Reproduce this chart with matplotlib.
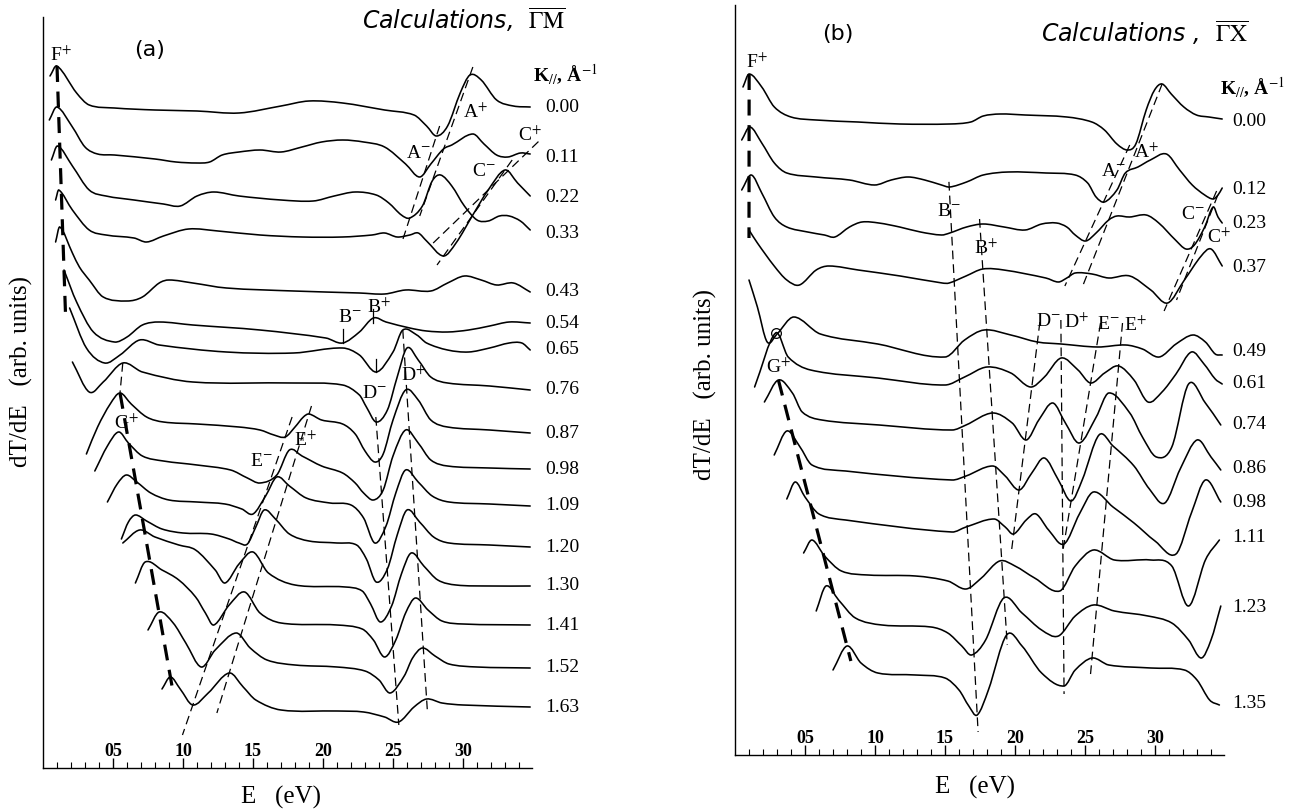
import matplotlib
matplotlib.use("Agg")
import matplotlib.pyplot as plt
from matplotlib.path import Path
from matplotlib.patches import PathPatch
import numpy as np

plt.rcParams['mathtext.fontset'] = 'stix'
plt.rcParams['font.family'] = ['Liberation Serif', 'DejaVu Serif']

W, H = 1304, 811

# ---------------- panel (a): Calculations, Gamma-M ----------------
A_K = ['0.00', '0.11', '0.22', '0.33', '0.43', '0.54', '0.65', '0.76',
       '0.87', '0.98', '1.09', '1.20', '1.30', '1.41', '1.52', '1.63']
# vertical offset of each spectrum (where its K label sits), arb. units
A_BASE = [661, 611, 571, 535, 476, 445, 418, 378, 335, 299, 262, 221, 182, 143, 100, 61]

A_E = [
    [0.5, 1.0, 2.4, 3.3, 5.1, 8, 11, 14, 17, 19, 21.4, 24.4, 26.5, 27.4, 28.1, 28.9, 29.8, 30.5, 31.3, 32.4, 33.6, 34.8],
    [0.45, 1.0, 2.1, 3.0, 3.9, 5.1, 8.0, 9.5, 11.0, 11.9, 12.8, 14.0, 15.5, 17.0, 18.5, 19.9, 21.4, 22.9, 24.4, 25.9,
     26.9, 27.7, 28.6, 29.2, 30.7, 31.5, 32.4, 33.2, 34.1, 34.8],
    [0.6, 1.04, 2.1, 3.3, 4.5, 6.5, 8.6, 9.8, 11.0, 12.2, 14.0, 17.0, 19.3, 20.8, 22.3, 23.8, 24.7, 25.6, 26.2, 27.1,
     27.8, 28.4, 29.2, 30.1, 31.0, 31.8, 32.6, 33.3, 34.1, 34.8],
    [0.9, 1.13, 2.1, 3.3, 4.5, 6.5, 7.4, 8.6, 10.4, 12.5, 15.5, 18.5, 21.4, 23.5, 24.4, 25.3, 26.2, 26.8, 27.4, 28.6,
     29.5, 30.7, 31.8, 33.0, 33.9, 34.8],
    [0.9, 1.2, 2.1, 2.6, 3.3, 4.3, 6.0, 7.1, 8.3, 9.0, 10.7, 13.1, 17.9, 22.6, 24.4, 25.9, 27.7, 28.9, 30.1, 31.3,
     32.4, 33.6, 34.8],
    [1.5, 2.4, 3.6, 5.1, 6.0, 7.1, 8.3, 10.7, 15.5, 20.2, 21.4, 22.6, 23.6, 24.5, 26.2, 27.4, 28.9, 30.4, 31.9, 33.3, 34.8],
    [1.9, 3.1, 4.4, 5.5, 6.9, 8.3, 13.1, 17.9, 21.4, 22.6, 23.8, 25.0, 25.7, 26.7, 27.4, 28.9, 30.4, 31.9, 33.3, 34.2, 34.8],
    [2.1, 3.3, 4.3, 5.7, 7.1, 10.7, 17.9, 21.4, 22.6, 23.1, 23.8, 24.6, 25.3, 26.0, 26.8, 27.7, 28.9, 31.9, 34.8],
    [3.1, 3.9, 4.8, 5.5, 6.3, 7.4, 8.6, 11.0, 14.0, 15.5, 16.5, 17.3, 18.0, 18.6, 19.0, 19.9, 21.4, 22.3, 23.0, 23.7,
     24.3, 25.0, 25.9, 26.8, 27.7, 28.9, 31.9, 34.8],
    [3.7, 4.6, 5.4, 6.1, 7.1, 8.6, 11.0, 13.4, 14.6, 15.5, 16.7, 17.6, 18.5, 19.9, 21.4, 22.3, 22.9, 23.6, 24.3, 25.0,
     25.9, 26.8, 27.7, 28.9, 31.9, 34.8],
    [4.6, 5.3, 5.95, 6.7, 7.7, 9.0, 11.0, 13.0, 14.2, 15.0, 15.9, 16.7, 17.6, 18.8, 20.5, 22.0, 22.9, 23.7, 24.5, 25.2,
     25.9, 26.8, 27.8, 29.0, 31.9, 34.8],
    [5.6, 6.1, 6.6, 7.4, 8.5, 10.0, 12.0, 13.3, 14.0, 14.6, 15.2, 15.8, 16.6, 17.6, 19.0, 21.0, 22.4, 23.1, 23.8, 24.6,
     25.3, 26.0, 26.9, 27.9, 29.0, 31.9, 34.8],
    [5.7, 6.9, 8.0, 9.7, 10.9, 12.3, 13.0, 14.0, 15.0, 16.1, 18.0, 21.6, 22.8, 23.4, 24.1, 24.9, 25.6, 26.3, 27.2, 28.2,
     29.5, 32.0, 34.8],
    [6.6, 7.3, 8.5, 9.7, 10.9, 11.6, 12.2, 13.3, 14.4, 15.5, 17.0, 21.0, 22.8, 23.6, 24.4, 25.2, 25.9, 26.6, 27.5, 28.5,
     30.0, 34.8],
    [7.5, 8.3, 9.3, 10.2, 11.3, 12.3, 13.8, 14.8, 16.0, 18.0, 21.0, 23.0, 24.0, 24.8, 25.8, 26.4, 27.1, 28.0, 29.0, 31.0, 34.8],
    [8.5, 9.1, 9.8, 10.7, 11.8, 13.3, 14.3, 15.2, 17.0, 21.0, 22.9, 24.4, 25.4, 26.5, 27.4, 28.5, 30.0, 34.8],
]
A_DT = [
    [31, 41, 14, 2, -1, -3, -4, -6, 1, 6, 4, -3, -8, -19, -29, -19, 14, 32, 27, 7, 1, 0],
    [37, 50, 30, 10, 3, 2, -2, -5, -6, -5, 2, 5, 7, 5, 10, 15, 17, 15, 10, -7, -20, -7, 8, 12, 23, 13, 2, 0, 4, 3],
    [37, 51, 31, 7, 1, -3, -7, -9, 1, 5, 1, -3, -4, 1, 5, 2, -6, -18, -21, -9, 16, 22, 11, -9, -23, -24, -19, -19, -24, -33],
    [33, 43, 23, 3, -2, -5, -9, -3, 4, 2, -2, -4, -4, -2, 0, -4, -2, 0, -8, -23, -10, 18, 43, 63, 50, 37],
    [50, 65, 39, 25, 12, -5, -9, -5, 9, 12, 9, 4, 1, -1, -2, 2, 1, 9, 16, 12, 7, 9, 0],
    [53, 21, -9, -19, -14, -2, 1, -2, -7, -15, -20, -9, 5, 1, -5, -8, -9, -7, -3, 1, 0],
    [42, 2, -13, -5, 10, 5, -2, -3, 2, -5, -22, -2, 20, 15, 7, 0, -2, 2, 7, 7, 0],
    [28, -2, 8, 27, 18, 8, 7, 5, -5, -17, -32, -20, 13, 42, 30, 13, 7, 4, 0],
    [-21, 6, 29, 40, 29, 16, 11, 9, 6, 3, -2, -4, 6, 16, 19, 13, 9, -1, -18, -29, -21, 13, 43, 33, 13, 6, 3, 0],
    [-2, 23, 37, 26, 13, 8, 4, -1, -9, -14, -6, 19, 13, 3, -4, -14, -24, -31, -21, 13, 39, 26, 9, 3, 1, 0],
    [4, 22, 31, 24, 13, 6, 4, 2, -3, -8, 10, 29, 20, 8, 3, 1, -12, -37, -20, 13, 36, 24, 10, 4, 2, 0],
    [8, 25, 32, 26, 18, 14, 13, 8, 4, 3, 20, 37, 28, 13, 6, 4, 2, -12, -35, -22, 12, 37, 25, 10, 4, 2, 0],
    [43, 56, 49, 41, 36, 16, 3, 22, 34, 13, 1, -1, -5, -18, -36, -20, 12, 33, 20, 6, 1, 0, 0],
    [42, 63, 55, 45, 28, 12, 0, 20, 33, 12, 2, 0, -4, -15, -32, -15, 12, 27, 15, 4, 1, 0],
    [38, 56, 45, 25, 1, 18, 35, 20, 8, 3, 1, -3, -12, -25, -8, 10, 20, 12, 4, 1, 0],
    [18, 30, 18, 2, 14, 34, 20, 7, -3, -4, -5, -10, -15, 0, 8, 4, 2, 0],
]

# ---------------- panel (b): Calculations, Gamma-X ----------------
B_K = ['0.00', '0.12', '0.23', '0.37', '0.49', '0.61', '0.74', '0.86', '0.98', '1.11', '1.23', '1.35']
B_BASE = [633, 565, 531, 487, 403, 371, 330, 286, 252, 217, 147, 52]

B_E = [
    [0.57, 1.01, 1.91, 2.81, 4.0, 5.79, 8.78, 11.76, 15.34, 16.84, 17.73, 18.93, 20.72, 23.7, 25.49, 26.39, 27.28,
     28.03, 28.63, 29.37, 29.97, 30.51, 31.16, 32.06, 32.96, 33.85, 34.8],
    [0.48, 1.07, 1.91, 2.81, 3.7, 5.79, 8.18, 9.97, 11.16, 12.36, 13.55, 14.75, 15.34, 16.54, 17.73, 19.52, 22.21,
     24.3, 25.19, 25.79, 26.39, 27.28, 27.88, 28.78, 29.67, 30.81, 31.76, 32.66, 33.55, 34.15, 34.5, 34.8],
    [0.48, 1.16, 1.91, 2.81, 3.7, 5.19, 6.39, 7.13, 8.18, 9.07, 10.27, 11.76, 13.25, 14.75, 15.34, 16.54, 17.73,
     19.22, 20.72, 21.91, 22.96, 23.7, 24.3, 25.04, 25.79, 26.69, 27.28, 28.18, 29.37, 30.27, 31.46, 32.21, 32.81,
     33.55, 34.15, 34.5, 34.8],
    [1.0, 1.6, 2.8, 3.7, 4.6, 5.8, 6.7, 8.8, 11.8, 14.8, 15.3, 16.5, 17.7, 19.2, 22.2, 23.1, 23.7, 24.3, 25.5, 26.7,
     28.2, 29.7, 30.9, 32.1, 33.3, 34.0, 34.8],
    [1.0, 1.6, 2.3, 3.0, 4.2, 6.1, 10.2, 15.0, 16.4, 17.8, 19.7, 21.6, 23.3, 25.9, 27.9, 29.1, 30.3, 31.5, 32.7, 33.6,
     34.3, 34.8],
    [1.4, 2.9, 3.8, 5.4, 10.2, 15.0, 16.4, 18.0, 19.7, 21.1, 22.1, 23.3, 24.5, 25.4, 26.4, 27.4, 28.5, 29.5, 30.5,
     31.5, 32.6, 33.5, 34.3, 34.8],
    [2.1, 3.1, 4.1, 4.8, 6.2, 10.3, 15.5, 16.5, 18.4, 19.8, 20.8, 21.7, 22.7, 23.6, 24.6, 25.8, 26.7, 28.2, 29.1,
     30.1, 31.2, 32.4, 33.6, 34.7],
    [2.8, 3.7, 4.6, 5.5, 7.9, 15.5, 16.5, 18.4, 19.3, 20.3, 21.2, 22.1, 23.1, 24.0, 24.8, 26.0, 27.0, 28.5, 29.6,
     30.7, 31.8, 33.0, 34.0, 34.7],
    [3.7, 4.3, 5.0, 6.0, 7.9, 15.5, 16.5, 18.5, 19.3, 19.9, 20.8, 21.5, 22.4, 23.5, 24.6, 25.6, 27.0, 28.5, 30.0,
     31.5, 32.6, 33.6, 34.7],
    [4.9, 5.5, 6.4, 7.6, 9.5, 12.9, 15.2, 16.5, 17.6, 18.9, 20.0, 21.4, 23.2, 24.3, 25.6, 27.1, 29.7, 31.2, 32.4,
     33.6, 34.6],
    [5.8, 6.5, 7.4, 8.6, 10.5, 14.0, 15.2, 16.2, 16.9, 17.9, 19.2, 20.5, 21.9, 23.1, 24.3, 25.6, 27.1, 29.5, 31.2,
     32.4, 33.3, 34.0, 34.7],
    [7.0, 8.0, 9.0, 10.2, 12.9, 15.0, 16.0, 16.7, 17.3, 18.1, 19.4, 20.5, 21.9, 23.5, 24.3, 25.5, 26.7, 29.7, 32.1,
     33.0, 33.9, 34.6],
]
B_DT = [
    [35, 48, 35, 15, 5, 2, 0, -2, -2, 0, 6, 8, 7, 5, 0, -8, -22, -28, -22, 12, 32, 38, 28, 15, 7, 5, 3],
    [50, 63, 47, 27, 17, 13, 10, 5, 10, 13, 10, 5, 3, 8, 15, 18, 17, 15, 7, -7, -12, 0, 17, 23, 30, 36, 20, 5, -5,
     -9, -5, 2],
    [34, 49, 31, 7, -3, -8, -11, -13, -3, 2, 1, -3, -8, -11, -9, -3, 0, -3, -6, 0, 1, -3, -11, -17, -9, 4, 8, 7, 9,
     1, -16, -25, -21, -3, 17, 7, 1],
    [38, 25, 2, -12, -17, -2, 2, -2, -8, -15, -15, -8, -1, -2, -10, -14, -10, -5, -6, -10, -8, -22, -35, -12, 12, 19, 2],
    [72, 45, 10, 18, 35, 18, 8, -5, 12, 22, 17, 10, 8, 5, 7, 3, -5, 8, 17, 10, -2, -3],
    [-3, 51, 27, 14, 6, -1, 7, 17, 11, -3, 7, 26, 14, 1, 11, 18, 4, -18, -8, 10, 32, 20, 5, 0],
    [23, 45, 32, 13, 5, 0, -5, 0, 12, 2, -15, 5, 22, 2, -18, 8, 32, 12, -12, -32, -22, 41, 22, 0],
    [14, 38, 23, 4, -2, -11, -7, 3, -7, -21, -4, 11, -11, -32, -11, 34, 23, 3, -20, -34, 0, 29, 12, -1],
    [4, 21, 6, -11, -17, -29, -24, -16, -24, -31, -17, -11, -27, -41, -11, 11, -4, -20, -38, -51, -10, 23, 1],
    [-15, -2, -18, -33, -37, -38, -43, -51, -40, -23, -28, -40, -53, -28, -12, -22, -22, -28, -68, -22, -2],
    [-3, 22, 8, -10, -17, -19, -25, -38, -47, -32, 10, -5, -22, -28, -8, 3, -3, -8, -15, -32, -50, -32, 2],
    [33, 57, 40, 30, 28, 25, 13, -3, -12, 13, 68, 57, 30, 17, 33, 45, 38, 35, 33, 23, 3, -2],
]

XTICKS = [5, 10, 15, 20, 25, 30]
XTICKLABELS = ['05', '10', '15', '20', '25', '30']

# guide lines: (top anchor (row, E), bottom anchor (row, E), extend top, extend bottom, thick)
A_GUIDES = [
    ((0, 1.0), (5, 1.5), 0, 45, True),
    ((0, 28.1), (2, 26.2), 10, 25, False),
    ((0, 30.5), (2, 27.8), 8, 35, False),
    ((3, 33.0), (3, 30.7), 10, 50, False),
    ((1, 34.5), (3, 31.8), 12, 55, False),
    ((7, 23.8), (15, 25.4), 5, 3, False),
    ((6, 25.7), (15, 27.4), 0, 14, False),
    ((8, 17.3), (15, 10.7), 20, 30, False),
    ((8, 19.0), (15, 13.3), 8, 40, False),
    ((8, 5.5), (15, 9.1), 0, 15, True),
    ((7, 5.7), (8, 5.5), 0, 0, False),
]
B_GUIDES = [
    ((0, 1.01), (3, 1.0), 0, 8, True),
    ((0, 28.03), (2, 25.04), 5, 45, False),
    ((0, 30.51), (2, 26.69), 0, 68, False),
    ((1, 34.15), (3, 30.9), 8, 8, False),
    ((2, 34.15), (3, 32.1), 12, 20, False),
    ((1, 15.3), (11, 17.3), 5, 17, False),
    ((3, 17.7), (11, 19.4), 50, 10, False),
    ((4, 21.6), (8, 19.9), 20, 15, False),
    ((5, 23.3), (11, 23.5), 38, 8, False),
    ((5, 25.4), (8, 23.5), 60, 10, False),
    ((5, 27.4), (11, 25.5), 43, 20, False),
    ((6, 3.1), (11, 8.0), 0, 15, True),
]

# feature labels: (letter, sign, E, row, height above that row's offset)
A_NOTES = [('F', '+', 1.3, 0, 52), ('A', '+', 30.9, 0, -5), ('A', '-', 26.8, 1, 4),
           ('C', '+', 34.8, 1, 22), ('C', '-', 31.5, 2, 25), ('B', '-', 21.9, 5, 6),
           ('B', '+', 24.0, 5, 16), ('D', '-', 23.7, 7, -3), ('D', '+', 26.5, 7, 15),
           ('G', '+', 5.95, 8, 10), ('E', '-', 15.6, 9, 7), ('E', '+', 18.75, 9, 29)]
B_NOTES = [('F', '+', 1.55, 0, 60), ('A', '-', 27.0, 1, 18), ('A', '+', 29.4, 1, 38),
           ('B', '-', 15.3, 2, 12), ('B', '+', 17.9, 3, 20), ('C', '-', 32.7, 2, 9),
           ('C', '+', 34.6, 3, 31), ('D', '-', 22.4, 4, 30), ('D', '+', 24.4, 4, 30),
           ('E', '-', 26.7, 4, 27), ('E', '+', 28.6, 4, 27), ('G', '+', 3.1, 5, 17)]


def curve_path(E, y):
    # cubic Hermite through the read points, drawn by matplotlib as Bezier segments
    E = np.asarray(E, float)
    y = np.asarray(y, float)
    n = len(E)
    m = np.zeros(n)
    m[0] = (y[1] - y[0]) / (E[1] - E[0])
    m[-1] = (y[-1] - y[-2]) / (E[-1] - E[-2])
    for i in range(1, n - 1):
        m[i] = (y[i + 1] - y[i - 1]) / (E[i + 1] - E[i - 1])
    verts = [(E[0], y[0])]
    codes = [Path.MOVETO]
    for i in range(n - 1):
        h = E[i + 1] - E[i]
        verts += [(E[i] + h / 3, y[i] + m[i] * h / 3),
                  (E[i + 1] - h / 3, y[i + 1] - m[i + 1] * h / 3),
                  (E[i + 1], y[i + 1])]
        codes += [Path.CURVE4] * 3
    return Path(verts, codes)


def row_y(Es, dts, base, row, e):
    return base[row] + np.interp(e, Es[row], dts[row])


def draw_panel(ax, Es, dts, base, ks, guides, notes, xmax, ymax, klab_x):
    ax.set_xlim(0, xmax)
    ax.set_ylim(0, ymax)
    for s in ['top', 'right']:
        ax.spines[s].set_visible(False)
    for s in ['left', 'bottom']:
        ax.spines[s].set_linewidth(1.0)
    ax.set_yticks([])
    ax.set_xticks(XTICKS)
    ax.set_xticklabels(XTICKLABELS, fontsize=13, fontweight='bold')
    ax.set_xticks(np.arange(1, 35), minor=True)
    ax.tick_params(axis='x', which='major', direction='in', length=7, width=1.0, pad=-18)
    ax.tick_params(axis='x', which='minor', direction='in', length=4, width=0.8)

    for E, dt, b, k in zip(Es, dts, base, ks):
        y = np.asarray(dt, float) + b
        ax.add_patch(PathPatch(curve_path(E, y), fill=False, lw=1.15, color='black',
                               capstyle='round', joinstyle='round', clip_on=False))
        ax.text(klab_x, b, k, fontsize=14, ha='left', va='center', clip_on=False)

    for (ra, ea), (rb, eb), ext_t, ext_b, thick in guides:
        p1 = np.array([ea, row_y(Es, dts, base, ra, ea)])
        p2 = np.array([eb, row_y(Es, dts, base, rb, eb)])
        d = p2 - p1
        dy = abs(d[1])
        s = p1 - d * ext_t / dy
        e = p2 + d * ext_b / dy
        if thick:
            ax.plot([s[0], e[0]], [s[1], e[1]], color='black', lw=2.3, dashes=(5, 3), clip_on=False)
        else:
            ax.plot([s[0], e[0]], [s[1], e[1]], color='black', lw=0.9, dashes=(7, 4), clip_on=False)

    for letter, sign, e, row, dy in notes:
        ax.text(e, base[row] + dy, letter + '$^{' + sign + '}$', fontsize=14,
                ha='center', va='center', clip_on=False)


fig = plt.figure(figsize=(W / 100, H / 100), dpi=100)

PX_PER_EV = 14.0
XMAX = 34.9

# panel (a) : spine at x=43 px, bottom axis at y=768 px, top at 17 px
axa = fig.add_axes([43 / W, 1 - 768 / H, XMAX * PX_PER_EV / W, (768 - 17) / H])
draw_panel(axa, A_E, A_DT, A_BASE, A_K, A_GUIDES, A_NOTES, XMAX, 751, 35.9)
# small solid markers at B-, B+ and D- of the 0.54 / 0.65 spectra
for row, e, lo, hi in [(5, 21.4, 0, 14), (5, 23.6, -5, 9), (6, 23.8, 0, 13)]:
    y0 = row_y(A_E, A_DT, A_BASE, row, e)
    axa.plot([e, e], [y0 + lo, y0 + hi], color='black', lw=0.9)

# panel (b) : spine at x=735 px, bottom axis at y=755 px, top at 5 px
axb = fig.add_axes([735 / W, 1 - 755 / H, XMAX * PX_PER_EV / W, (755 - 5) / H])
draw_panel(axb, B_E, B_DT, B_BASE, B_K, B_GUIDES, B_NOTES, XMAX, 750, 35.5)
# little ellipse marking G on the 0.61 spectrum
ye = row_y(B_E, B_DT, B_BASE, 5, 2.9)
axb.plot([2.9], [ye], marker='o', ms=7, mfc='none', mec='black', mew=0.9)

fig.text(150 / W, 1 - 50 / H, '(a)', fontsize=16, family='DejaVu Sans', ha='center', va='center')
fig.text(838 / W, 1 - 34 / H, '(b)', fontsize=16, family='DejaVu Sans', ha='center', va='center')
fig.text(566 / W, 1 - 20 / H, 'Calculations,  $\\overline{\\Gamma\\mathrm{M}}$', fontsize=17,
         family='DejaVu Sans', style='italic', ha='right', va='center')
fig.text(1248 / W, 1 - 33 / H, 'Calculations ,  $\\overline{\\Gamma\\mathrm{X}}$', fontsize=17,
         family='DejaVu Sans', style='italic', ha='right', va='center')
fig.text(533 / W, 1 - 75 / H, 'K$_{//}$, Å$^{-1}$', fontsize=14, fontweight='bold', ha='left', va='center')
fig.text(1220 / W, 1 - 88 / H, 'K$_{//}$, Å$^{-1}$', fontsize=14, fontweight='bold', ha='left', va='center')

fig.text(21 / W, 1 - 372 / H, 'dT/dE   (arb. units)', fontsize=18, rotation=90, ha='center', va='center')
fig.text(705 / W, 1 - 385 / H, 'dT/dE   (arb. units)', fontsize=18, rotation=90, ha='center', va='center')
fig.text(281 / W, 1 - 797 / H, 'E   (eV)', fontsize=18, ha='center', va='center')
fig.text(975 / W, 1 - 787 / H, 'E   (eV)', fontsize=18, ha='center', va='center')

fig.savefig('out.png', dpi=100)
